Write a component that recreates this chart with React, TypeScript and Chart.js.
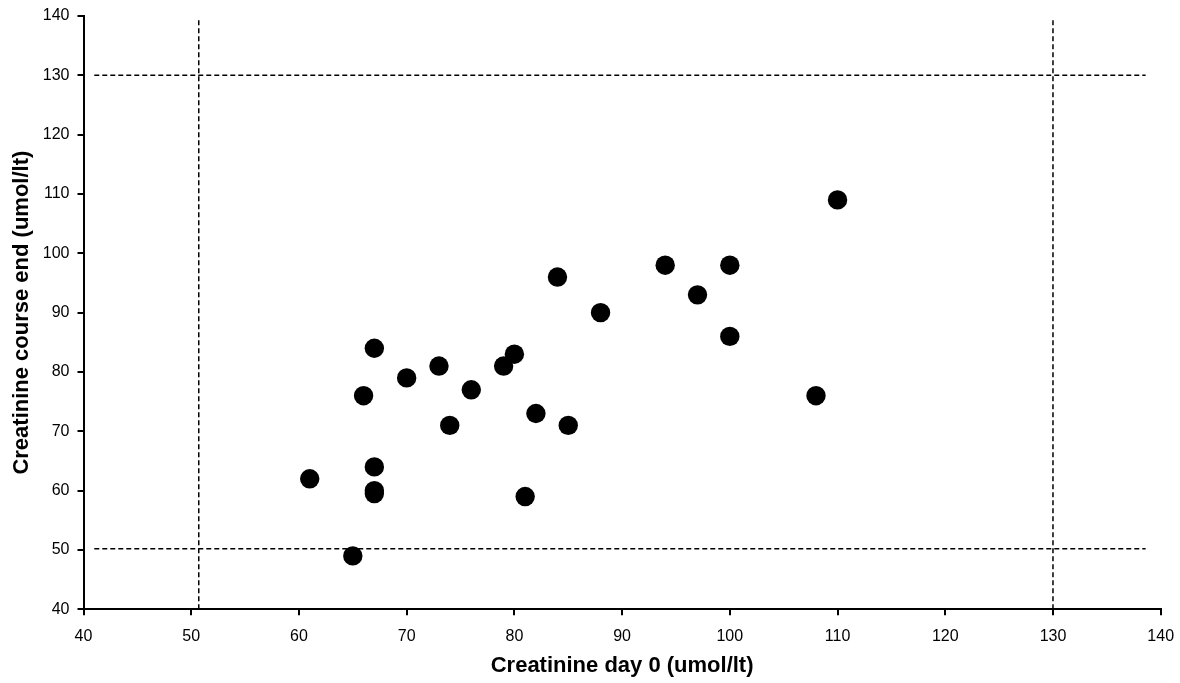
import React, { useEffect, useRef } from "react";
import { Chart, registerables } from "chart.js";

Chart.register(...registerables);

// Data
const day0 = [61, 65, 66, 67, 67, 67, 67, 70, 73, 74, 76, 79, 80, 81, 82, 84, 85, 88, 94, 97, 100, 100, 108, 110];
const courseEnd = [62, 49, 76, 84, 64, 60, 59.5, 79, 81, 71, 77, 81, 83, 59, 73, 96, 71, 90, 98, 93, 98, 86, 76, 109];

// Reference (normal-range) lines
const refX = [50.7, 130];
const refY = [50.2, 130];
const refYSpan = [40, 139.3];
const refXSpan = [41, 138.6];

const axisTicks = [40, 50, 60, 70, 80, 90, 100, 110, 120, 130, 140];
const xTitle = "Creatinine day 0 (umol/lt)";
const yTitle = "Creatinine course end (umol/lt)";

const FONT = "'Liberation Sans', Arial, Helvetica, sans-serif";

export default function App() {
  const ref = useRef<HTMLCanvasElement | null>(null);

  useEffect(() => {
    if (!ref.current) return;
    const points = day0.map((x, i) => ({ x, y: courseEnd[i] }));
    const dashStyle = {
      type: "line" as const,
      borderColor: "#000",
      borderWidth: 1.5,
      borderDash: [5, 3],
      pointRadius: 0,
      fill: false,
      showLine: true,
      order: 2,
    };
    const lineSets = [
      ...refX.map((v) => ({
        ...dashStyle,
        data: refYSpan.map((y) => ({ x: v, y })),
      })),
      ...refY.map((v) => ({
        ...dashStyle,
        data: refXSpan.map((x) => ({ x, y: v })),
      })),
    ];

    const chart = new Chart(ref.current, {
      type: "scatter",
      data: {
        datasets: [
          {
            data: points,
            backgroundColor: "#000",
            borderColor: "#000",
            borderWidth: 0,
            pointRadius: 9.7,
            pointHoverRadius: 9.7,
            order: 1,
          } as any,
          ...(lineSets as any[]),
        ],
      },
      options: {
        animation: false,
        responsive: true,
        maintainAspectRatio: false,
        layout: { padding: { top: 16, right: 19.3, left: 0, bottom: 0 } },
        plugins: { legend: { display: false }, tooltip: { enabled: false } },
        scales: {
          x: {
            type: "linear",
            min: 40,
            max: 140,
            afterBuildTicks: (s: any) => {
              s.ticks = axisTicks.map((v) => ({ value: v }));
            },
            afterFit: (s: any) => {
              s.height = 73.7;
              s.paddingLeft = 0;
              s.paddingRight = 0;
            },
            ticks: {
              color: "#000",
              font: { family: FONT, size: 16 },
              padding: 12,
              maxRotation: 0,
            },
            grid: {
              drawOnChartArea: false,
              drawTicks: true,
              tickLength: 6,
              tickColor: "#000",
              lineWidth: 2,
            },
            border: { display: true, color: "#000", width: 2 },
            title: {
              display: true,
              text: xTitle,
              color: "#000",
              font: { family: FONT, size: 22, weight: "bold" },
              padding: { top: 0, bottom: 4 },
            },
          },
          y: {
            type: "linear",
            min: 40,
            max: 140,
            afterBuildTicks: (s: any) => {
              s.ticks = axisTicks.map((v) => ({ value: v }));
            },
            afterFit: (s: any) => {
              s.width = 83.5;
              s.paddingTop = 0;
              s.paddingBottom = 0;
            },
            ticks: {
              color: "#000",
              font: { family: FONT, size: 16 },
              padding: 8,
            },
            grid: {
              drawOnChartArea: false,
              drawTicks: true,
              tickLength: 6,
              tickColor: "#000",
              lineWidth: 2,
            },
            border: { display: true, color: "#000", width: 2 },
            title: {
              display: true,
              text: yTitle,
              color: "#000",
              font: { family: FONT, size: 22, weight: "bold" },
              padding: { top: 9, bottom: 0 },
            },
          },
        },
      },
    });
    return () => chart.destroy();
  }, []);

  return (
    <div style={{ position: "absolute", left: 0, top: 0, width: 1180, height: 683, background: "#fff" }}>
      <canvas ref={ref} />
    </div>
  );
}
